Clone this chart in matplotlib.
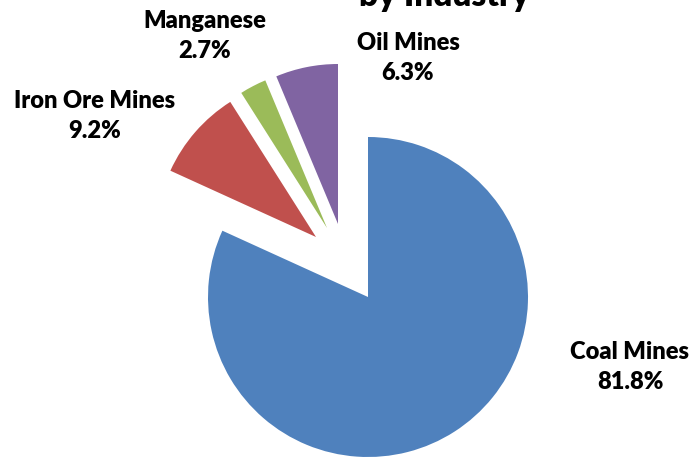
import matplotlib.pyplot as plt

industries = ["Coal Mines", "Iron Ore Mines", "Manganese", "Oil Mines"]
shares = [81.8, 9.2, 2.7, 6.3]
colors = ["#4F81BD", "#C0504D", "#9BBB59", "#8064A2"]

W, H = 692, 459
cx, cy, r = 368, H - 297, 160
fig = plt.figure(figsize=(W / 100, H / 100), dpi=100)
ax = fig.add_axes([0, 0, 1, 1])

wedges, _ = ax.pie(shares, colors=colors, startangle=90, counterclock=False,
                   radius=r, center=(cx, cy), wedgeprops=dict(linewidth=0))
# pulled-out slices, shifted up and to the left as in the original
shifts = [(0, 0), (-52, 60), (-41, 69), (-30, 73)]
for w, (dx, dy) in zip(wedges, shifts):
    w.set_center((cx + dx, cy + dy))

ax.set_xlim(0, W)
ax.set_ylim(0, H)
ax.set_aspect("equal")
ax.axis("off")

font = dict(family=["Lato", "DejaVu Sans"], fontweight="heavy", fontsize=17,
            ha="center", va="center", linespacing=1.4, color="#000000")
label_pos = [(630, H - 367), (95, H - 116), (205, H - 36), (408, H - 58)]
for name, val, (x, y) in zip(industries, shares, label_pos):
    ax.text(x, y, f"{name}\n{val}%", **font)

# title is cut off at the top of the picture
ax.text(444, H - 6, "by Industry", family=["Lato", "DejaVu Sans"], fontweight="heavy",
        fontsize=24, ha="center", va="baseline", color="#000000", clip_on=False)

fig.savefig("out.png", dpi=100)
